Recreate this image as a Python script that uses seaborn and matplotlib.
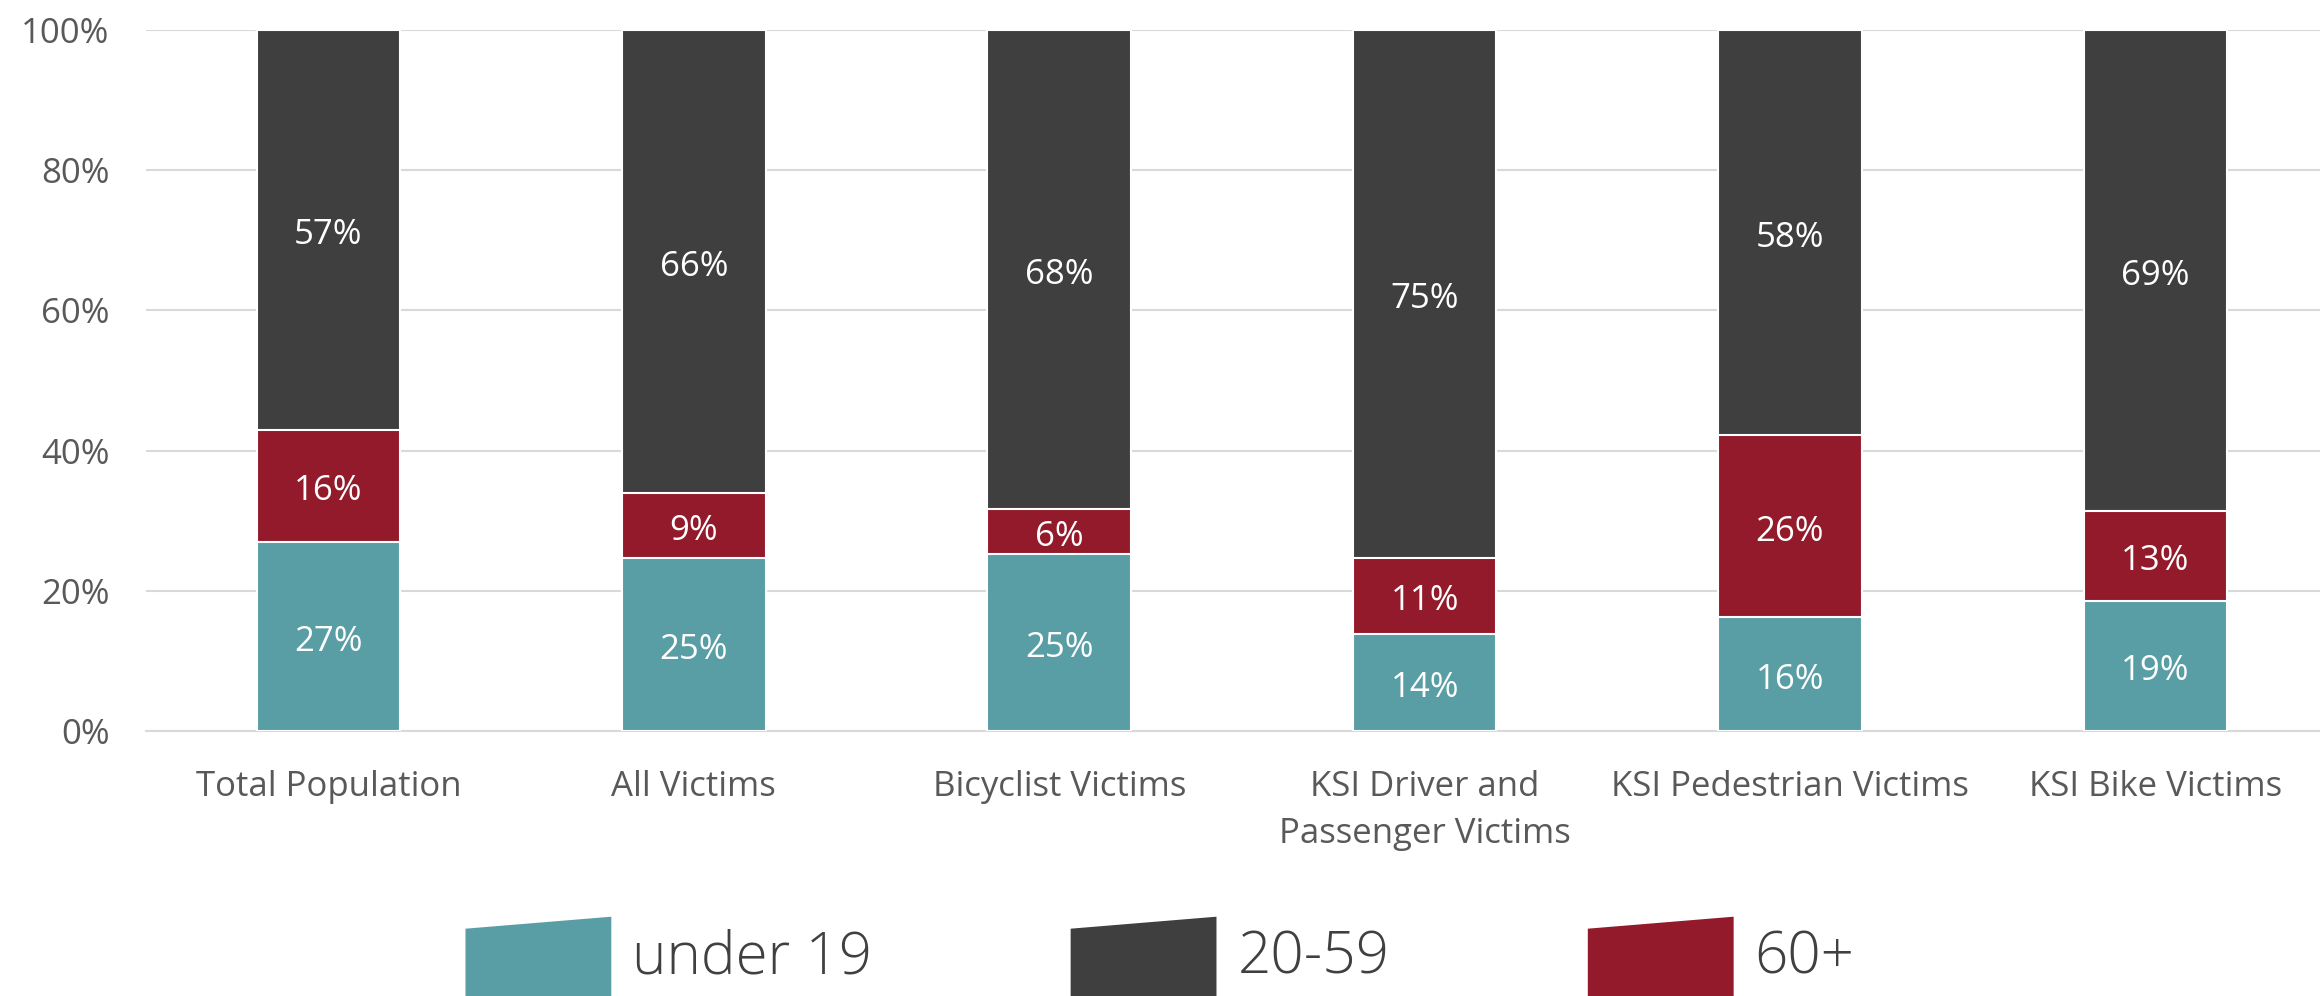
import numpy as np
import pandas as pd
import seaborn as sns
import matplotlib.pyplot as plt
from matplotlib.patches import Patch, Polygon
from matplotlib.legend_handler import HandlerPatch

# Dados (percentuais)
categorias = ["Total Population", "All Victims", "Bicyclist Victims",
              "KSI Driver and\nPassenger Victims", "KSI Pedestrian Victims", "KSI Bike Victims"]
sub19 = [27.0, 24.7, 25.3, 13.9, 16.2, 18.6]
mais60 = [16.0, 9.3, 6.4, 10.8, 26.0, 12.8]
de20a59 = [57.0, 66.0, 68.3, 75.3, 57.8, 68.6]
grupos = ["under 19", "20-59", "60+"]
cores = {"under 19": "#599EA5", "20-59": "#3F3F3F", "60+": "#931A2A"}


# Legenda com marcador em forma de trapézio (a base fica cortada pela borda da figura)
class HandlerTrapezio(HandlerPatch):
    def create_artists(self, legend, orig_handle, xdescent, ydescent, width, height, fontsize, trans):
        x0, y0 = -xdescent, -ydescent
        base = y0 - height * 0.6
        pts = [(x0, base), (x0 + width, base), (x0 + width, y0 + height), (x0, y0 + height * 0.84)]
        p = Polygon(pts, closed=True, facecolor=orig_handle.get_facecolor(),
                    edgecolor="none", transform=trans)
        return [p]


df = pd.DataFrame({"categoria": categorias, "sub19": sub19, "mais60": mais60, "de20a59": de20a59})
df["topo_vermelho"] = df["sub19"] + df["mais60"]
df["topo"] = df["topo_vermelho"] + df["de20a59"]

sns.set_theme(style="white")
plt.rcParams["font.family"] = ["Open Sans", "DejaVu Sans"]

fig = plt.figure(figsize=(23.2, 9.96), dpi=100)
ax = fig.add_axes([0.0628, 0.266, 0.945, 0.704])

largura = 0.393
kw = dict(x="categoria", width=largura, edgecolor="white", linewidth=1.5, ax=ax, zorder=3)
sns.barplot(data=df, y="topo", color=cores["20-59"], saturation=1, **kw)
sns.barplot(data=df, y="topo_vermelho", color=cores["60+"], saturation=1, **kw)
sns.barplot(data=df, y="sub19", color=cores["under 19"], saturation=1, **kw)

# Rótulos dos segmentos
for i, linha in df.iterrows():
    segs = [(0, linha["sub19"]), (linha["sub19"], linha["mais60"]), (linha["topo_vermelho"], linha["de20a59"])]
    for base, v in segs:
        ax.annotate(f"{v:.0f}%", (i, base + v / 2), xytext=(0, -4), textcoords="offset points",
                    ha="center", va="center", color="white", fontsize=25, zorder=4)

ax.set_xlim(-0.5, 5.5)
ax.set_ylim(0, 100)
ax.set_yticks(np.arange(0, 101, 20))
ax.set_yticklabels([f"{t}%" for t in range(0, 101, 20)])
ax.grid(axis="y", color="#D9D9D9", linewidth=1.5, zorder=0)
ax.set_axisbelow(True)
for s in ["top", "right", "left"]:
    ax.spines[s].set_visible(False)
ax.spines["bottom"].set_color("#D9D9D9")
ax.spines["bottom"].set_linewidth(1.5)
ax.tick_params(axis="y", length=0, pad=26, labelsize=25, labelcolor="#595959")
ax.tick_params(axis="x", length=0, pad=28, labelsize=25, labelcolor="#595959")
for t in ax.get_xticklabels():
    t.set_linespacing(1.5)
ax.set_xlabel("")
ax.set_ylabel("")

handles = [Patch(facecolor=cores[g], label=g) for g in grupos]
leg = fig.legend(handles=handles, handler_map={Patch: HandlerTrapezio()},
                 loc="center", bbox_to_anchor=(0.5, 0.042), ncol=3, frameon=False,
                 handlelength=2.5, handleheight=1.6, handletextpad=0.36,
                 columnspacing=3.4, prop={"weight": "light", "size": 42})
for t in leg.get_texts():
    t.set_color("#404040")

fig.savefig("out.png", dpi=100)
